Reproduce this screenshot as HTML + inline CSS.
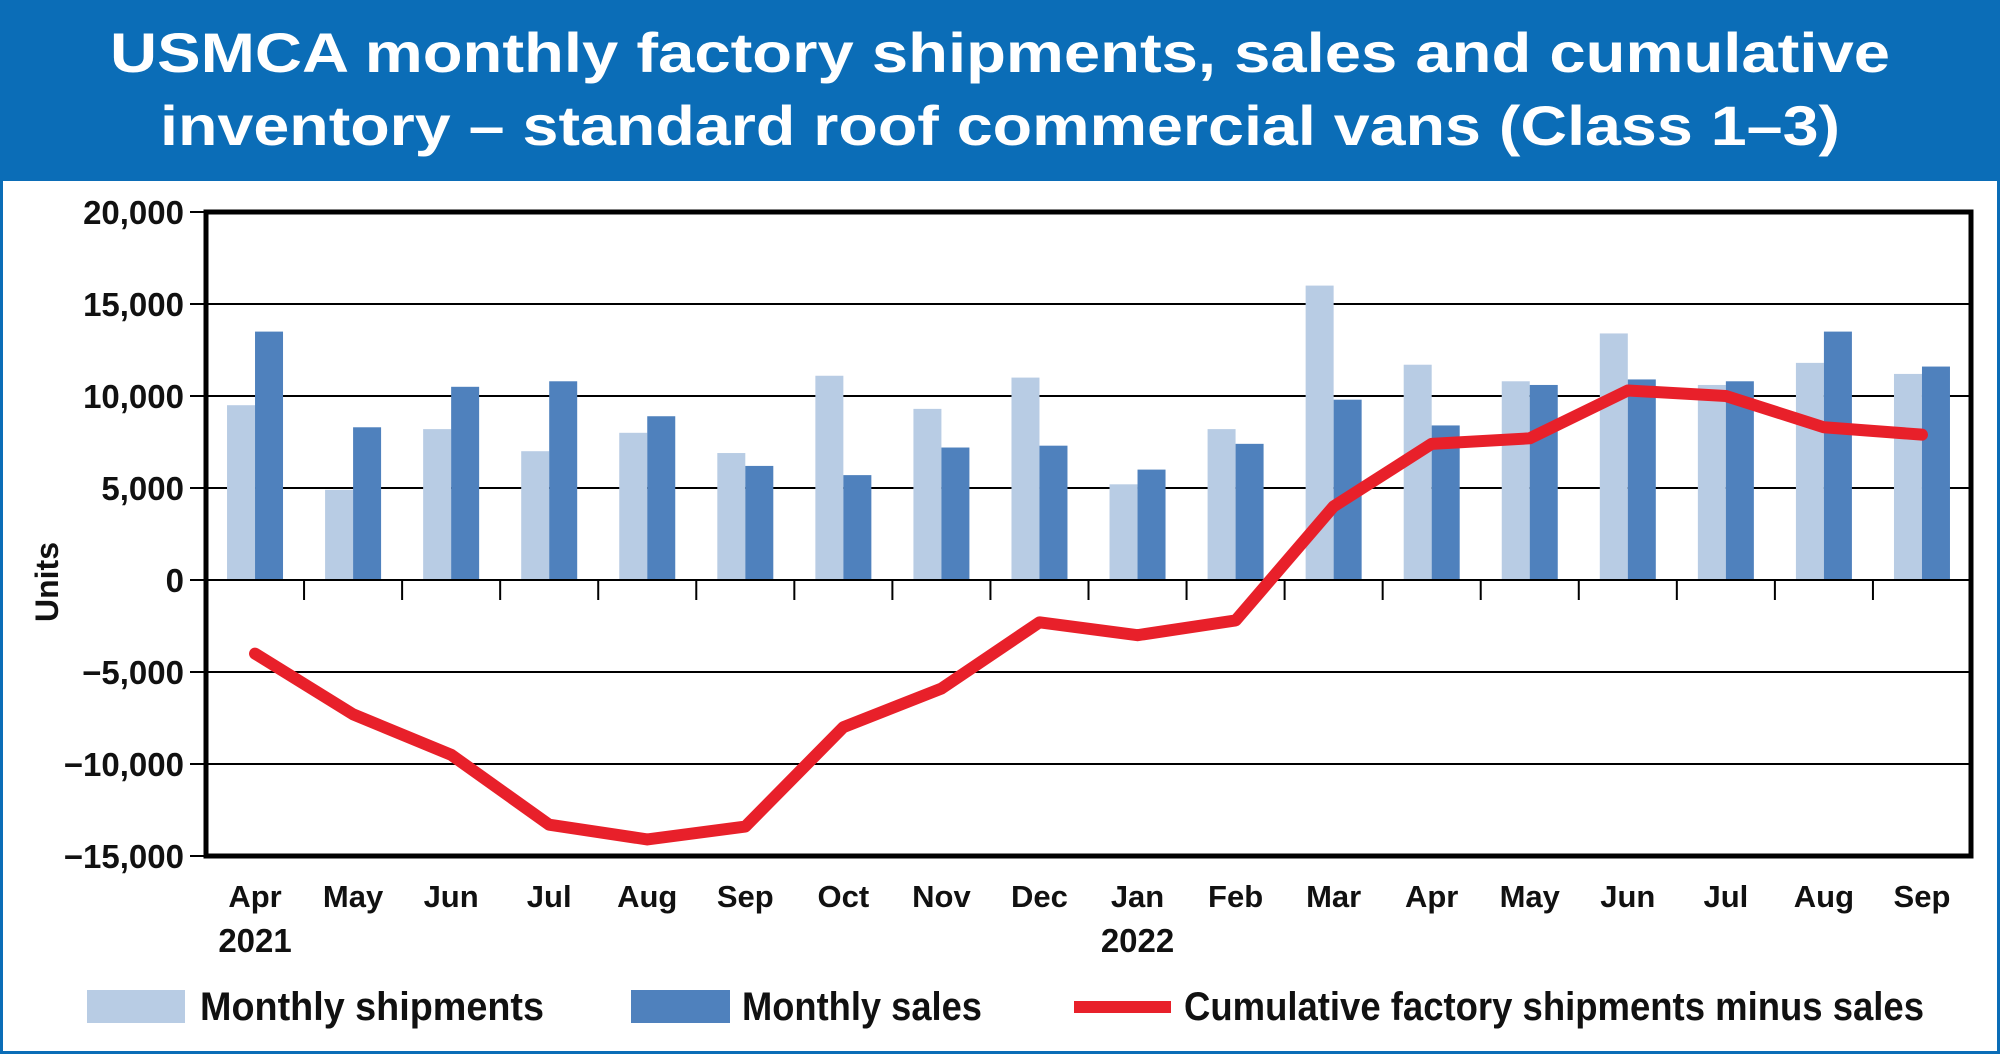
<!DOCTYPE html>
<html><head><meta charset="utf-8"><style>
html,body{margin:0;padding:0;background:#fff}
svg{display:block}
text{font-family:"Liberation Sans",Arial,sans-serif;font-weight:bold}
</style></head><body>
<svg id="c" width="2000" height="1054" viewBox="0 0 2000 1054">
<rect x="1.5" y="1.5" width="1997" height="1051" fill="#fff" stroke="#0b6db7" stroke-width="3"/>
<rect x="0" y="0" width="2000" height="181" fill="#0b6db7"/>
<text x="1000" y="72" text-anchor="middle" fill="#fff" font-size="56" textLength="1780" lengthAdjust="spacingAndGlyphs">USMCA monthly factory shipments, sales and cumulative</text>
<text x="1000" y="145" text-anchor="middle" fill="#fff" font-size="56" textLength="1680" lengthAdjust="spacingAndGlyphs">inventory – standard roof commercial vans (Class 1–3)</text>
<g id="plot"></g>
</svg>
<script>
const categories=["Apr","May","Jun","Jul","Aug","Sep","Oct","Nov","Dec","Jan","Feb","Mar","Apr","May","Jun","Jul","Aug","Sep"];
const years=["2021","","","","","","","","","2022","","","","","","","",""];
const shipments=[9500,4900,8200,7000,8000,6900,11100,9300,11000,5200,8200,16000,11700,10800,13400,10600,11800,11200];
const sales=[13500,8300,10500,10800,8900,6200,5700,7200,7300,6000,7400,9800,8400,10600,10900,10800,13500,11600];
const cumulative=[-4000,-7300,-9500,-13300,-14100,-13400,-8000,-5900,-2300,-3000,-2200,4000,7400,7700,10300,10000,8300,7900];
const yTicks=[20000,15000,10000,5000,0,-5000,-10000,-15000];
const yTickLabels=["20,000","15,000","10,000","5,000","0","\u22125,000","\u221210,000","\u221215,000"];

const NS="http://www.w3.org/2000/svg";
const L=206,R=1971,T=212,B=856,yMax=20000,yMin=-15000;
const y=v=>T+(yMax-v)/(yMax-yMin)*(B-T);
const slot=(R-L)/categories.length;
const xc=i=>L+slot*(i+0.5);
const g=document.getElementById('plot');
function mk(tag,a){const e=document.createElementNS(NS,tag);for(const k in a)e.setAttribute(k,a[k]);g.appendChild(e);return e;}

yTicks.forEach((v,i)=>{
  const gl=mk('line',{x1:L-16,x2:R,y1:y(v),y2:y(v),stroke:'#000','stroke-width':2});
  
  
  const t=mk('text',{x:184,y:y(v)+12,'text-anchor':'end','font-size':33,fill:'#111'});
  t.textContent=yTickLabels[i];
  
  
});
const bw=28;
categories.forEach((c,i)=>{
  const b1=mk('rect',{x:xc(i)-bw,y:Math.min(y(shipments[i]),y(0)),width:bw,height:Math.abs(y(0)-y(shipments[i])),fill:'#b8cce4'});
  
  
  const b2=mk('rect',{x:xc(i),y:Math.min(y(sales[i]),y(0)),width:bw,height:Math.abs(y(0)-y(sales[i])),fill:'#4f81bd'});
  
  
  if(i>0){const tk=mk('line',{x1:L+slot*i,x2:L+slot*i,y1:y(0),y2:y(0)+20,stroke:'#000','stroke-width':2});
  
  }
  const t=mk('text',{x:xc(i),y:907,'text-anchor':'middle','font-size':31,fill:'#111'});
  t.textContent=c;
  
  
  if(years[i]){const yt=mk('text',{x:xc(i),y:952,'text-anchor':'middle','font-size':33,fill:'#111'});
  yt.textContent=years[i];
  
  }
});
const zl=mk('line',{x1:L,x2:R,y1:y(0),y2:y(0),stroke:'#000','stroke-width':2});


const pl=mk('polyline',{points:cumulative.map((v,i)=>xc(i)+','+y(v)).join(' '),fill:'none',stroke:'#e8202a','stroke-width':12,'stroke-linejoin':'round','stroke-linecap':'round'});


const bx=mk('rect',{x:L,y:T,width:R-L,height:B-T,fill:'none',stroke:'#000','stroke-width':5});


const ut=mk('text',{x:0,y:0,'text-anchor':'middle','font-size':32,fill:'#111',transform:'translate(58,582) rotate(-90)'});
ut.textContent='Units';


// legend
const s1=mk('rect',{x:87,y:990,width:98,height:33,fill:'#b8cce4'});


const l1=mk('text',{x:200,y:1020,'font-size':40,fill:'#111',textLength:344,lengthAdjust:'spacingAndGlyphs'});
l1.textContent='Monthly shipments';


const s2=mk('rect',{x:631,y:990,width:99,height:33,fill:'#4f81bd'});


const l2=mk('text',{x:742,y:1020,'font-size':40,fill:'#111',textLength:240,lengthAdjust:'spacingAndGlyphs'});
l2.textContent='Monthly sales';


const s3=mk('rect',{x:1074,y:1001,width:97,height:12,fill:'#e8202a'});


const l3=mk('text',{x:1184,y:1020,'font-size':40,fill:'#111',textLength:740,lengthAdjust:'spacingAndGlyphs'});
l3.textContent='Cumulative factory shipments minus sales';


</script>
</body></html>
